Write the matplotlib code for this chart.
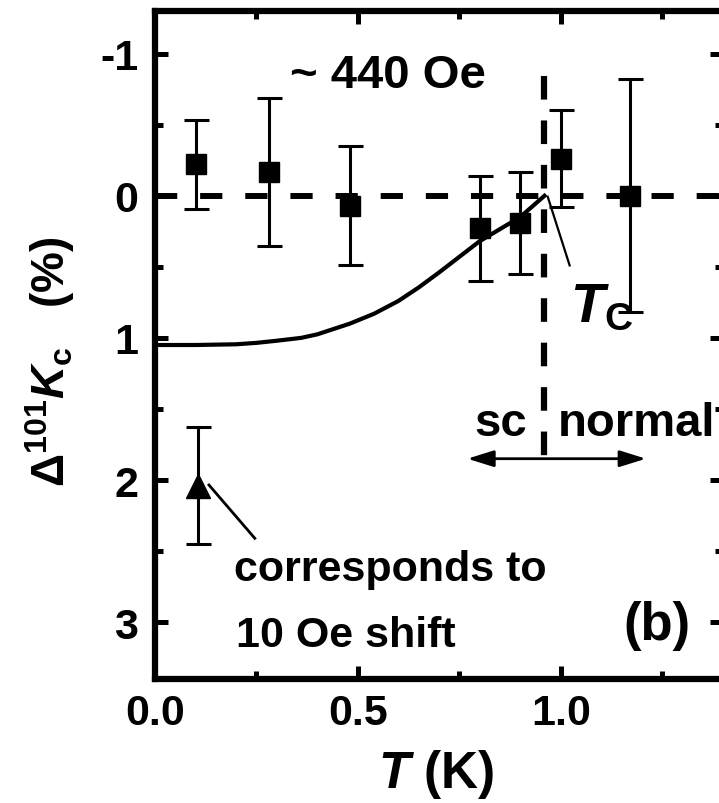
import matplotlib
matplotlib.use('Agg')
import matplotlib.pyplot as plt

# Daten
T_sq = [0.10, 0.28, 0.48, 0.80, 0.90, 1.00, 1.17]
dK_sq = [-0.22, -0.17, 0.07, 0.23, 0.19, -0.26, 0.0]
err_sq = [0.31, 0.52, 0.42, 0.37, 0.36, 0.34, 0.82]

T_tri = [0.105]
dK_tri = [2.04]
err_tri = [0.41]

T_fit = [0.0, 0.1, 0.2, 0.25, 0.3, 0.36, 0.4, 0.48, 0.54, 0.6, 0.65, 0.7, 0.75, 0.8, 0.85, 0.9, 0.96]
dK_fit = [1.05, 1.05, 1.045, 1.035, 1.02, 1.0, 0.975, 0.9, 0.83, 0.74, 0.645, 0.54, 0.43, 0.32, 0.235, 0.15, 0.0]

Tc = 0.96
xticks = [0.0, 0.5, 1.0]
xtick_labels = ['0.0', '0.5', '1.0']
yticks = [-1, 0, 1, 2, 3]
ytick_labels = ['-1', '0', '1', '2', '3']

plt.rcParams['font.family'] = 'Liberation Sans'
plt.rcParams['font.weight'] = 'bold'
plt.rcParams['lines.scale_dashes'] = False
plt.rcParams['mathtext.fontset'] = 'custom'
plt.rcParams['mathtext.rm'] = 'Liberation Sans'
plt.rcParams['mathtext.it'] = 'Liberation Sans:italic'
plt.rcParams['mathtext.bf'] = 'Liberation Sans:bold'
plt.rcParams['mathtext.bfit'] = 'Liberation Sans:bold:italic'

fig = plt.figure(figsize=(7.19, 8.04), dpi=100)
ax = fig.add_axes([155/719, 1 - 680/804, 568/719, 668/804])

# gestrichelte Linien
ax.axhline(0, color='k', lw=4.3, dashes=[16, 16.5], zorder=1)
ax.plot([Tc, Tc], [-0.84, 1.85], color='k', lw=4.5, dashes=[17, 15], zorder=1)

# Fit-Kurve
ax.plot(T_fit, dK_fit, color='k', lw=3, zorder=2)

# Messpunkte
ax.errorbar(T_sq, dK_sq, yerr=err_sq, fmt='s', color='k', ms=15,
            elinewidth=2.2, capsize=9, capthick=2.2, zorder=3)
ax.errorbar(T_tri, dK_tri, yerr=err_tri, fmt='^', color='k', ms=17,
            elinewidth=2.2, capsize=9, capthick=2.2, zorder=3)

# Pfeil sc / normal
ax.annotate('', xy=(0.77, 1.85), xytext=(1.21, 1.85),
            arrowprops=dict(arrowstyle='<|-|>,head_length=0.8,head_width=0.25',
                            mutation_scale=20, lw=2, color='k',
                            shrinkA=0, shrinkB=0))

# Zeigerlinien
ax.plot([0.968, 1.022], [0.007, 0.49], color='k', lw=1.6)
ax.plot([0.133, 0.246], [2.035, 2.41], color='k', lw=2)

ax.text(0.574, -0.85, '~ 440 Oe', fontsize=34, ha='center', va='center')
ax.text(1.022, 0.60, r'$\mathbfit{T}_{\mathrm{C}}$', fontsize=40, ha='left', va='top')
ax.text(0.852, 1.68, 'sc', fontsize=34, ha='center', va='baseline')
ax.text(0.993, 1.68, 'normal', fontsize=34, ha='left', va='baseline')
ax.text(0.195, 2.70, 'corresponds to', fontsize=31, ha='left', va='baseline')
ax.text(0.2, 3.165, '10 Oe shift', fontsize=31, ha='left', va='baseline')
ax.text(1.236, 3.02, '(b)', fontsize=38, ha='center', va='center')

ax.set_xlim(0, 1.4)
ax.set_ylim(3.4, -1.3)
ax.set_xticks(xticks)
ax.set_xticklabels(xtick_labels)
ax.set_xticks([0.25, 0.75, 1.25], minor=True)
ax.set_yticks(yticks)
ax.set_yticklabels(ytick_labels)
ax.set_yticks([-0.5, 0.5, 1.5, 2.5], minor=True)
ax.tick_params(which='both', direction='in', top=True, right=True,
               labelsize=31, width=3.6)
ax.tick_params(which='major', length=9.5)
ax.tick_params(which='minor', length=6)
ax.tick_params(axis='x', pad=10)
ax.tick_params(axis='y', pad=12)
for s in ax.spines.values():
    s.set_linewidth(4.5)

fig.text(436/719, 1 - 775/804, r'$\mathbfit{T}$ (K)', fontsize=37,
         ha='center', va='center')
fig.text(50/719, 1 - 362/804, r'$\Delta^{101}\mathbfit{K}_{\rm c}$   (%)',
         fontsize=33, rotation=90, ha='center', va='center')

fig.savefig('out.png', dpi=100)
